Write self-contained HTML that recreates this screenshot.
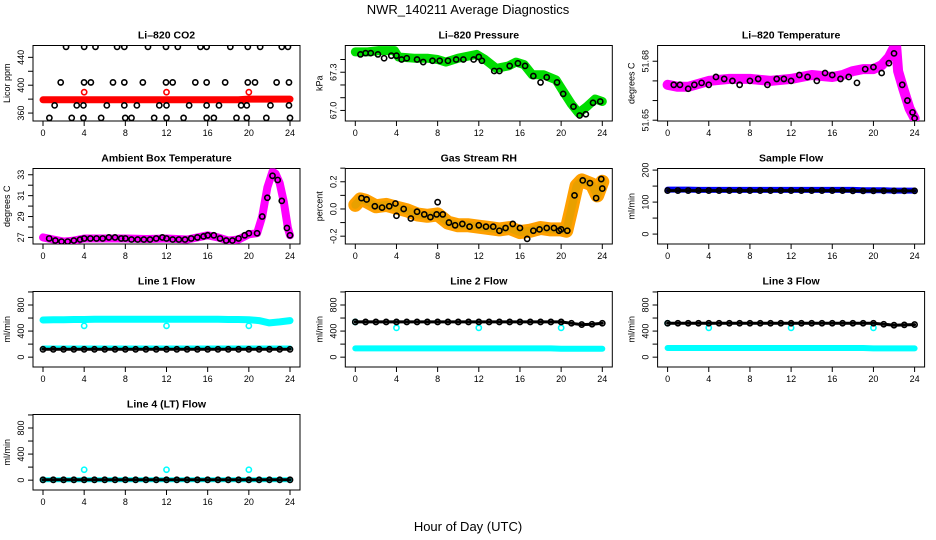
<!DOCTYPE html>
<html><head><meta charset="utf-8"><style>
html,body{margin:0;padding:0;background:#fff;}
svg{display:block;font-family:"Liberation Sans",Arial,sans-serif;}
</style></head><body>
<svg id="chart" width="936" height="540" viewBox="0 0 936 540" xmlns="http://www.w3.org/2000/svg">
<text x="468" y="14" font-size="13" text-anchor="middle">NWR_140211  Average Diagnostics</text>
<text x="468" y="531" font-size="13" text-anchor="middle">Hour of Day (UTC)</text>
</svg>
<script>
// ---- data ----
const xTicks = [0,4,8,12,16,20,24];
// CO2
const co2LineX = [0,4,8,12,16,19,20,24];
const co2LineY = [379,379,379,379,379,379,380,380];
const co2RedOutX = [4,12,20];
const co2RedOutY = [390,390,390];
const co2DotX = [2.24,4.0,5.1,7.2,7.9,10.2,11.95,13.1,15.3,15.9,18.2,19.9,21.1,23.2,23.8,
  1.72,3.99,4.65,6.8,7.9,9.7,11.95,12.6,14.8,15.9,17.7,19.9,20.6,22.7,23.9,
  1.13,3.28,3.93,6.2,7.9,9.12,11.3,12.0,14.2,15.9,17.1,19.25,19.8,22.1,23.9,
  0.62,2.79,3.93,5.65,7.99,8.6,10.8,12.0,13.66,15.9,16.6,18.8,19.8,21.7,24.0];
const co2DotY = [455,455,455,455,455,455,455,455,455,455,455,455,455,455,455,
  404,404,404,404,404,404,404,404,404,404,404,404,404,404,404,
  371,371,371,371,371,371,371,371,371,371,371,371,371,371,371,
  353,353,353,353,353,353,353,353,353,353,353,353,353,353,353];
// Pressure
const presX = [0,1.2,2.3,3.8,4.2,5.7,7,8,8.8,10,11.8,12.6,13.7,14.9,15.6,16.4,17.2,18.3,19.5,20.2,21,21.7,22.5,23.3,24];
const presY = [67.46,67.46,67.47,67.47,67.42,67.41,67.41,67.40,67.38,67.41,67.44,67.40,67.33,67.35,67.38,67.36,67.28,67.28,67.24,67.15,67.05,66.98,67.03,67.09,67.07];
const presDotX = [0.5,1,1.5,2.2,2.8,3.5,4,4.5,5,6,6.6,7.5,8.2,9,9.8,10.5,11.5,12,12.3,13.5,14,15,15.8,16.5,17.3,18,18.6,19.6,20.2,21.2,21.8,22.4,23.1,23.8];
const presDotY = [67.44,67.45,67.45,67.44,67.41,67.43,67.43,67.40,67.41,67.40,67.38,67.39,67.39,67.39,67.40,67.40,67.40,67.42,67.39,67.31,67.31,67.35,67.37,67.35,67.27,67.22,67.26,67.22,67.13,67.03,66.96,66.97,67.06,67.07];
// Temperature
const tempX = [0,1,2,4,6,8,10,12,14,16,17,18,19,20,20.8,21.5,22,22.2,22.4,22.9,23.5,24];
const tempY = [51.668,51.667,51.667,51.670,51.671,51.671,51.670,51.671,51.673,51.672,51.673,51.675,51.676,51.676,51.678,51.682,51.687,51.688,51.675,51.666,51.656,51.651];
const tempDotX = [0.6,1.2,2,2.6,3.3,4,4.7,5.5,6.3,7,8,8.8,9.7,10.6,11.3,12,12.8,13.6,14.5,15.3,16,16.8,17.6,18.4,19.2,20,20.8,21.5,22,22.8,23.3,23.8,24];
const tempDotY = [51.668,51.668,51.666,51.668,51.669,51.668,51.672,51.671,51.670,51.668,51.670,51.671,51.668,51.671,51.671,51.670,51.673,51.672,51.670,51.674,51.673,51.671,51.672,51.669,51.676,51.677,51.674,51.679,51.684,51.668,51.660,51.654,51.651];
// Ambient
const ambX = [0,1,2,3,4,6,8,10,12,14,15,16,17,18,19,20,20.8,21.3,21.8,22.3,22.6,23,23.4,23.8,24];
const ambY = [27.0,26.8,26.6,26.7,26.9,26.9,26.9,26.85,26.9,26.8,27.0,27.2,27.0,26.7,26.8,27.3,27.4,29.0,31.8,33.3,33.1,32.2,30.4,27.9,27.2];
const ambDotX = [0.6,1.2,1.8,2.4,3,3.6,4,4.6,5.2,5.8,6.4,7,7.6,8,8.6,9.2,9.8,10.4,11,11.6,12,12.6,13.2,13.8,14.4,15,15.6,16,16.6,17.2,17.8,18.4,19,19.6,20,20.8,21.3,21.8,22.3,22.8,23.2,23.7,24];
const ambDotY = [26.9,26.7,26.6,26.6,26.7,26.8,26.9,26.9,26.9,26.9,27.0,27.0,26.9,26.9,26.8,26.8,26.8,26.8,26.9,27.0,26.9,26.8,26.8,26.8,26.9,27.0,27.1,27.2,27.2,26.9,26.7,26.7,26.9,27.2,27.4,27.4,29.0,30.8,32.9,32.5,30.5,27.9,27.2];
// Gas stream RH
const rhX = [0,0.5,1,2,3,4,5,6,7,8,9,10,11,12,13,14,15,16,17,18,19,20,20.5,21,21.5,22,23,23.5,24];
const rhY = [0.03,0.07,0.06,0.02,0.03,0.01,-0.01,-0.04,-0.05,-0.04,-0.10,-0.12,-0.12,-0.13,-0.14,-0.15,-0.14,-0.17,-0.16,-0.14,-0.15,-0.15,-0.16,0.0,0.17,0.21,0.18,0.10,0.20];
const rhDotX = [0.6,1.1,1.9,2.6,3.3,3.9,4,4.7,5.4,6,6.7,7.3,7.9,8,8.5,9.1,9.7,10.4,11.1,12,12.7,13.4,14,14.6,15.3,16,16.7,17.3,17.9,18.6,19.3,19.8,20,20.6,21.3,22.1,22.8,23.4,23.9,24];
const rhDotY = [0.08,0.07,0.02,0.01,0.02,0.04,-0.05,0.0,-0.07,-0.02,-0.04,-0.06,-0.04,0.05,-0.04,-0.10,-0.12,-0.11,-0.13,-0.12,-0.13,-0.13,-0.16,-0.14,-0.11,-0.14,-0.22,-0.16,-0.15,-0.14,-0.14,-0.16,-0.15,-0.16,0.10,0.21,0.19,0.08,0.22,0.15];
// Sample flow
const hourly = [0,1,2,3,4,5,6,7,8,9,10,11,12,13,14,15,16,17,18,19,20,21,22,23,24];
const sampleY = [139,139,139,138,138,138,138,138,138,138,138,138,138,138,138,138,138,138,138,137,137,137,136,136,136];
const sampleDotY = [136,136,136,136,136,136,136,136,136,136,136,136,136,136,136,136,136,136,135,135,135,135,135,135,135];
// Line flows
const line1Hi = [570,575,575,578,578,580,580,582,582,582,582,582,582,582,582,582,580,580,578,578,575,560,525,540,560];
const line1Lo = [140,140,140,140,140,140,140,140,140,140,140,140,140,140,140,140,140,140,140,140,140,140,140,140,140];
const line1Dot = [120,120,120,120,120,120,120,120,120,120,120,120,120,120,120,120,120,120,120,120,120,120,120,120,120];
const outX = [4,12,20];
const line1Out = [480,480,480];
const line2Dot = [540,540,540,540,540,540,540,540,540,540,540,540,540,540,540,540,540,540,540,540,540,520,500,505,520];
const line2Lo = [135,135,135,135,135,135,135,135,135,135,135,135,135,135,135,135,135,135,135,135,130,130,130,130,130];
const line2Out = [450,450,450];
const line3Dot = [520,520,520,520,520,520,520,520,520,520,520,520,520,520,520,520,520,520,520,520,520,505,490,495,500];
const line3Lo = [140,140,140,140,140,140,140,140,140,140,140,140,140,140,140,140,140,140,140,140,135,135,135,135,135];
const line3Out = [450,450,450];
const line4Dot = [5,5,5,5,5,5,5,5,5,5,5,5,5,5,5,5,5,5,5,5,5,5,5,5,5];
const line4Out = [160,160,160];

// ---- drawing ----
const NS = "http://www.w3.org/2000/svg";
const svg = document.getElementById('chart');
function mk(tag, attrs, parent){
  const e = document.createElementNS(NS, tag);
  for (const k in attrs) e.setAttribute(k, attrs[k]);
  (parent||svg).appendChild(e);
  return e;
}
const flowTicks = [0,200,400,600,800,1000];
const flowLabels = [0,400,800];
const panels = [
 {id:'co2',col:0,row:0,title:'Li\u2013820 CO2',ylab:'Licor ppm',ymin:348.6,ymax:457,ticks:[360,380,400,420,440],labels:[360,400,440],
  layers:[{t:'band',x:co2LineX,y:co2LineY,c:'#ff0000',w:7},{t:'dots',x:co2RedOutX,y:co2RedOutY,c:'#ff0000'},{t:'dots',x:co2DotX,y:co2DotY,c:'#000'}]},
 {id:'pressure',col:1,row:0,title:'Li\u2013820 Pressure',ylab:'kPa',ymin:66.917,ymax:67.51,ticks:[67.0,67.1,67.2,67.3,67.4],labels:[67.0,67.3],dec:1,
  layers:[{t:'band',x:presX,y:presY,c:'#00dd00',w:9},{t:'dots',x:presDotX,y:presDotY,c:'#000'}]},
 {id:'temperature',col:2,row:0,title:'Li\u2013820 Temperature',ylab:'degrees C',ymin:51.6496,ymax:51.688,ticks:[51.65,51.66,51.67,51.68],labels:[51.65,51.68],dec:2,
  layers:[{t:'band',x:tempX,y:tempY,c:'#ff00ff',w:10},{t:'dots',x:tempDotX,y:tempDotY,c:'#000'}]},
 {id:'ambient',col:0,row:1,title:'Ambient Box Temperature',ylab:'degrees C',ymin:26.37,ymax:33.6,ticks:[27,28,29,30,31,32,33],labels:[27,29,31,33],
  layers:[{t:'band',x:ambX,y:ambY,c:'#ff00ff',w:8},{t:'dots',x:ambDotX,y:ambDotY,c:'#000'}]},
 {id:'rh',col:1,row:1,title:'Gas Stream RH',ylab:'percent',ymin:-0.2575,ymax:0.2975,ticks:[-0.3,-0.2,-0.1,0,0.1,0.2,0.3],labels:[-0.2,0.0,0.2],dec:1,
  layers:[{t:'band',x:rhX,y:rhY,c:'#ffa000',w:14},{t:'band',x:rhX,y:rhY,c:'#e8a000',w:8},{t:'dots',x:rhDotX,y:rhDotY,c:'#000'}]},
 {id:'sample',col:2,row:1,title:'Sample Flow',ylab:'ml/min',ymin:-31,ymax:205,ticks:[0,50,100,150,200],labels:[0,100,200],
  layers:[{t:'band',x:hourly,y:sampleY,c:'#0000ff',w:6},{t:'dots',x:hourly,y:sampleDotY,c:'#000'},{t:'band',x:hourly,y:sampleDotY,c:'#000',w:3}]},
 {id:'line1',col:0,row:2,title:'Line 1 Flow',ylab:'ml/min',ymin:-151,ymax:1007,ticks:flowTicks,labels:flowLabels,
  layers:[{t:'band',x:hourly,y:line1Hi,c:'#00ffff',w:7},{t:'band',x:hourly,y:line1Lo,c:'#00ffff',w:5},{t:'dots',x:outX,y:line1Out,c:'#00ffff'},{t:'dots',x:hourly,y:line1Dot,c:'#000'},{t:'band',x:hourly,y:line1Dot,c:'#000',w:3}]},
 {id:'line2',col:1,row:2,title:'Line 2 Flow',ylab:'ml/min',ymin:-151,ymax:1007,ticks:flowTicks,labels:flowLabels,
  layers:[{t:'band',x:hourly,y:line2Lo,c:'#00ffff',w:6},{t:'dots',x:outX,y:line2Out,c:'#00ffff'},{t:'dots',x:[0],y:[540],c:'#00ffff'},{t:'dots',x:hourly,y:line2Dot,c:'#000'},{t:'band',x:hourly,y:line2Dot,c:'#000',w:3}]},
 {id:'line3',col:2,row:2,title:'Line 3 Flow',ylab:'ml/min',ymin:-151,ymax:1007,ticks:flowTicks,labels:flowLabels,
  layers:[{t:'band',x:hourly,y:line3Lo,c:'#00ffff',w:6},{t:'dots',x:outX,y:line3Out,c:'#00ffff'},{t:'dots',x:[0],y:[520],c:'#00ffff'},{t:'dots',x:hourly,y:line3Dot,c:'#000'},{t:'band',x:hourly,y:line3Dot,c:'#000',w:3}]},
 {id:'line4',col:0,row:3,title:'Line 4 (LT) Flow',ylab:'ml/min',ymin:-151,ymax:1007,ticks:flowTicks,labels:flowLabels,
  layers:[{t:'band',x:hourly,y:line4Dot,c:'#00ffff',w:5},{t:'dots',x:outX,y:line4Out,c:'#00ffff'},{t:'dots',x:[0],y:[5],c:'#00ffff'},{t:'dots',x:hourly,y:line4Dot,c:'#000'},{t:'band',x:hourly,y:line4Dot,c:'#000',w:3}]}
];

panels.forEach(p=>{
  const x0 = 43 + 312.3*p.col;
  const xs = 247/24;
  const top = 45.5 + 123*p.row, h = 75.5;
  const left = x0 - 10, right = x0 + 257;
  const X = v => x0 + v*xs;
  const Y = v => top + (p.ymax - v)/(p.ymax - p.ymin)*h;
  const g = mk('g', {});
  
  
  const cid = 'clip-' + p.id;
  const cp = mk('clipPath', {id:cid}, g);
  mk('rect', {x:left, y:top, width:right-left, height:h}, cp);
  const t = mk('text', {x:(left+right)/2, y:top-7, 'font-size':10.5, 'font-weight':'bold', 'text-anchor':'middle'}, g);
  t.textContent = p.title;
  
  
  const box = mk('rect', {x:left, y:top, width:right-left, height:h, fill:'none', stroke:'#000', 'stroke-width':1}, g);
  
  
  xTicks.forEach(v=>{
    mk('line', {x1:X(v), x2:X(v), y1:top+h, y2:top+h+5, stroke:'#000'}, g);
    const lt = mk('text', {x:X(v), y:top+h+15, 'font-size':9, 'text-anchor':'middle'}, g);
    lt.textContent = v;
    
    
  });
  p.ticks.forEach(v=>{
    const yy = Y(v);
    if (yy < top-0.5 || yy > top+h+0.5) return;
    mk('line', {x1:left-5, x2:left, y1:yy, y2:yy, stroke:'#000'}, g);
  });
  p.labels.forEach(v=>{
    const yy = Y(v);
    const lt = mk('text', {x:left-9, y:yy, 'font-size':9, 'text-anchor':'middle', transform:`rotate(-90 ${left-9} ${yy})`}, g);
    lt.textContent = p.dec ? v.toFixed(p.dec) : v;
    
    
  });
  const yl = mk('text', {x:left-23, y:top+h/2, 'font-size':9, 'text-anchor':'middle', transform:`rotate(-90 ${left-23} ${top+h/2})`}, g);
  yl.textContent = p.ylab;
  
  
  const dg = mk('g', {'clip-path':`url(#${cid})`}, g);
  p.layers.forEach(L=>{
    if (L.t === 'band'){
      const pts = L.x.map((v,i)=>X(v).toFixed(1)+','+Y(L.y[i]).toFixed(1)).join(' ');
      const pl = mk('polyline', {points:pts, fill:'none', stroke:L.c, 'stroke-width':L.w, 'stroke-linejoin':'round', 'stroke-linecap':'round'}, dg);
      
      
    } else {
      L.x.forEach((v,i)=>{
        const c = mk('circle', {cx:X(v), cy:Y(L.y[i]), r:2.6, fill:'none', stroke:L.c, 'stroke-width':1.6}, dg);
        
        
      });
    }
  });
});
</script>
</body></html>
